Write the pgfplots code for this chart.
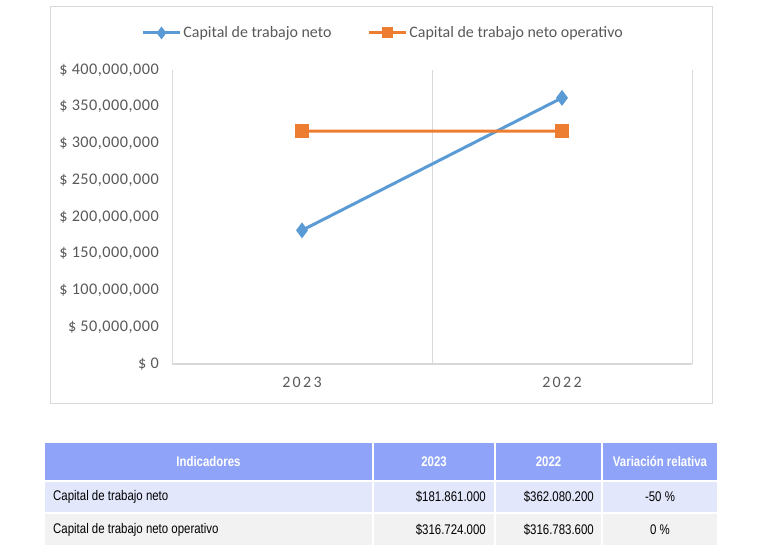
\documentclass[border=0pt]{standalone}
\usepackage{pgfplots}
\pgfplotsset{compat=1.18}
\usepackage{fontspec}
\setmainfont{Carlito}
\newfontfamily\tabfont{Liberation Sans}[FakeStretch=0.82]
\newfontfamily\tickfont{Carlito}[LetterSpace=15]
\newfontfamily\ylabfont{Carlito}[LetterSpace=3]
\definecolor{cblue}{HTML}{5B9BD5}
\definecolor{corange}{HTML}{ED7D31}
\definecolor{ctext}{HTML}{595959}
\definecolor{cgrid}{HTML}{D9D9D9}
\definecolor{thead}{HTML}{8FA3F9}
\definecolor{trowa}{HTML}{E3E7FC}
\definecolor{trowb}{HTML}{F2F2F2}
\begin{document}
\begin{tikzpicture}[x=1bp,y=1bp]
\useasboundingbox (0,0) rectangle (762,-554);
\fill[white] (0,0) rectangle (762,-554);
\draw[cgrid, line width=1bp] (50,-7) rectangle (712,-403);
\begin{axis}[
  at={(172bp,-364bp)}, anchor=south west, scale only axis,
  width=520bp, height=294bp,
  xmin=-0.5, xmax=1.5, ymin=0, ymax=400000000,
  scaled y ticks=false,
  axis x line*=bottom, axis y line*=left,
  x axis line style={-, cgrid, line width=1.5bp},
  y axis line style={draw=none},
  major tick length=0pt,
  xtick={0,1}, xticklabels={2023,2022},
  ytick={0,50000000,100000000,150000000,200000000,250000000,300000000,350000000,400000000},
  yticklabels={\$ 0,\$ 50{,}000{,}000,\$ 100{,}000{,}000,\$ 150{,}000{,}000,\$ 200{,}000{,}000,\$ 250{,}000{,}000,\$ 300{,}000{,}000,\$ 350{,}000{,}000,\$ 400{,}000{,}000},
  yticklabel style={font=\ylabfont\fontsize{16.3}{19}\selectfont, text=ctext, anchor=east, inner sep=0pt, xshift=-13bp},
  xticklabel style={font=\tickfont\fontsize{16}{19}\selectfont, text=ctext, anchor=north, inner sep=0pt, yshift=-13bp},
  extra x ticks={-0.5,0.5,1.5}, extra x tick labels={},
  extra x tick style={grid=major, major grid style={cgrid, line width=1bp}},
  clip=false,
  legend columns=2,
  legend style={at={(0.406,1.126)}, anchor=center, draw=none, fill=none,
    font=\fontsize{16}{19}\selectfont, text=ctext,
    /tikz/every even column/.append style={column sep=34bp},
    inner sep=0pt},
  legend image code/.code={
    \draw[mark repeat=2,mark phase=2,#1, mark size=4bp] plot coordinates {(0bp,0bp) (18.5bp,0bp) (37bp,0bp)};
  },
]
\addplot[cblue, line width=3bp, mark=diamond*, mark size=5.5bp] coordinates {(0,181861000) (1,362080200)};
\addlegendentry{Capital de trabajo neto}
\addplot[corange, line width=3bp, mark=square*, mark size=5.5bp] coordinates {(0,316724000) (1,316783600)};
\addlegendentry{Capital de trabajo neto operativo}
\end{axis}
% table
\fill[thead] (45,-443) rectangle (372,-480);
\fill[thead] (374,-443) rectangle (494,-480);
\fill[thead] (496,-443) rectangle (601,-480);
\fill[thead] (603,-443) rectangle (717,-480);
\fill[trowa] (45,-482) rectangle (372,-512);
\fill[trowa] (374,-482) rectangle (494,-512);
\fill[trowa] (496,-482) rectangle (601,-512);
\fill[trowa] (603,-482) rectangle (717,-512);
\fill[trowb] (45,-514) rectangle (372,-545);
\fill[trowb] (374,-514) rectangle (494,-545);
\fill[trowb] (496,-514) rectangle (601,-545);
\fill[trowb] (603,-514) rectangle (717,-545);
\begin{scope}[every node/.style={font=\tabfont\fontsize{14}{16}\selectfont, inner sep=0pt}]
\node[white, font=\tabfont\bfseries\fontsize{14}{16}\selectfont] at (208.5,-461.5) {Indicadores};
\node[white, font=\tabfont\bfseries\fontsize{14}{16}\selectfont] at (434,-461.5) {2023};
\node[white, font=\tabfont\bfseries\fontsize{14}{16}\selectfont] at (548.5,-461.5) {2022};
\node[white, font=\tabfont\bfseries\fontsize{14}{16}\selectfont] at (660,-461.5) {Variación relativa};
\node[anchor=west] at (53,-497) {Capital de trabajo neto};
\node[anchor=east] at (486,-497) {\$181.861.000};
\node[anchor=east] at (594,-497) {\$362.080.200};
\node at (660,-497) {-50 \%};
\node[anchor=west] at (53,-529.5) {Capital de trabajo neto operativo};
\node[anchor=east] at (486,-529.5) {\$316.724.000};
\node[anchor=east] at (594,-529.5) {\$316.783.600};
\node at (660,-529.5) {0 \%};
\end{scope}
\end{tikzpicture}
\end{document}
